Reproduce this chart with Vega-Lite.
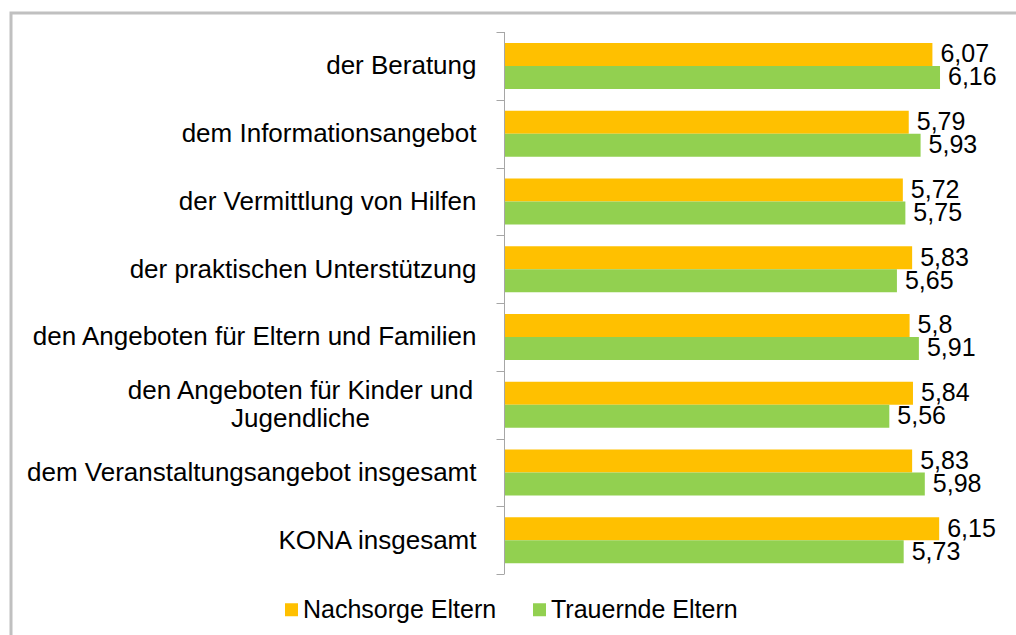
{
  "$schema": "https://vega.github.io/schema/vega-lite/v6.json",
  "width": 1020,
  "height": 650,
  "autosize": {"type": "none"},
  "padding": {"left": 11, "top": 13, "right": 0, "bottom": 0},
  "background": "white",
  "config": {
    "font": "Liberation Sans",
    "view": {"stroke": "#C0C0C0", "strokeWidth": 3},
    "locale": {"number": {"decimal": ",", "thousands": ".", "grouping": [3], "currency": ["", " €"]}}
  },
  "data": {
    "values": [
      {"kategorie": "der Beratung", "gruppe": "Nachsorge Eltern", "wert": 6.07},
      {"kategorie": "der Beratung", "gruppe": "Trauernde Eltern", "wert": 6.16},
      {"kategorie": "dem Informationsangebot", "gruppe": "Nachsorge Eltern", "wert": 5.79},
      {"kategorie": "dem Informationsangebot", "gruppe": "Trauernde Eltern", "wert": 5.93},
      {"kategorie": "der Vermittlung von Hilfen", "gruppe": "Nachsorge Eltern", "wert": 5.72},
      {"kategorie": "der Vermittlung von Hilfen", "gruppe": "Trauernde Eltern", "wert": 5.75},
      {"kategorie": "der praktischen Unterstützung", "gruppe": "Nachsorge Eltern", "wert": 5.83},
      {"kategorie": "der praktischen Unterstützung", "gruppe": "Trauernde Eltern", "wert": 5.65},
      {"kategorie": "den Angeboten für Eltern und Familien", "gruppe": "Nachsorge Eltern", "wert": 5.8},
      {"kategorie": "den Angeboten für Eltern und Familien", "gruppe": "Trauernde Eltern", "wert": 5.91},
      {"kategorie": "den Angeboten für Kinder und Jugendliche", "gruppe": "Nachsorge Eltern", "wert": 5.84},
      {"kategorie": "den Angeboten für Kinder und Jugendliche", "gruppe": "Trauernde Eltern", "wert": 5.56},
      {"kategorie": "dem Veranstaltungsangebot  insgesamt", "gruppe": "Nachsorge Eltern", "wert": 5.83},
      {"kategorie": "dem Veranstaltungsangebot  insgesamt", "gruppe": "Trauernde Eltern", "wert": 5.98},
      {"kategorie": "KONA insgesamt", "gruppe": "Nachsorge Eltern", "wert": 6.15},
      {"kategorie": "KONA insgesamt", "gruppe": "Trauernde Eltern", "wert": 5.73}
    ]
  },
  "encoding": {
    "y": {
      "field": "kategorie",
      "type": "nominal",
      "sort": null,
      "scale": {"paddingInner": 0, "paddingOuter": 0.797, "align": 0.176},
      "axis": {
        "title": null,
        "orient": "left",
        "offset": -493,
        "domain": false,
        "tickBand": "extent",
        "tickSize": 8,
        "tickColor": "#A6A6A6",
        "tickWidth": 1,
        "labelFontSize": 26,
        "labelColor": "#000000",
        "labelPadding": {"condition": {"test": "datum.value == 'den Angeboten für Kinder und Jugendliche'", "value": 196}, "value": 20},
        "labelAlign": {"condition": {"test": "datum.value == 'den Angeboten für Kinder und Jugendliche'", "value": "center"}, "value": "right"},
        "labelOffset": {"condition": {"test": "datum.value == 'den Angeboten für Kinder und Jugendliche'", "value": -14}, "value": 0},
        "labelLimit": 700,
        "labelLineHeight": 28,
        "labelExpr": "datum.label == 'den Angeboten für Kinder und Jugendliche' ? ['den Angeboten für Kinder und', 'Jugendliche'] : datum.label"
      }
    }
  },
  "layer": [
    {
      "mark": {"type": "bar"},
      "encoding": {
        "x": {
          "field": "wert",
          "type": "quantitative",
          "scale": {"domain": [-4.8343, 7.2367], "nice": false, "zero": false},
          "axis": null
        },
        "x2": {"datum": 1},
        "yOffset": {
          "field": "gruppe",
          "sort": ["Nachsorge Eltern", "Trauernde Eltern"],
          "scale": {"paddingOuter": 0.473, "paddingInner": 0}
        },
        "color": {
          "field": "gruppe",
          "type": "nominal",
          "sort": ["Nachsorge Eltern", "Trauernde Eltern"],
          "scale": {"range": ["#FFC000", "#92D050"]},
          "legend": {
            "title": null,
            "orient": "none",
            "legendX": 268,
            "legendY": 584,
            "direction": "horizontal",
            "symbolType": "square",
            "symbolSize": 169,
            "symbolStrokeWidth": 0,
            "labelFontSize": 25,
            "labelOffset": -1,
            "columnPadding": 30,
            "labelColor": "#000000",
            "padding": 0,
            "labelLimit": 400
          }
        }
      }
    },
    {
      "mark": {"type": "text", "align": "left", "baseline": "middle", "dx": 8, "fontSize": 25, "color": "#000000"},
      "encoding": {
        "x": {"field": "wert", "type": "quantitative"},
        "yOffset": {"field": "gruppe", "sort": ["Nachsorge Eltern", "Trauernde Eltern"]},
        "text": {"field": "wert", "type": "quantitative", "format": ".2~f"}
      }
    },
    {
      "mark": {"type": "bar", "color": "#A6A6A6"},
      "encoding": {
        "x": {"datum": 1, "type": "quantitative"},
        "x2": {"datum": 1.012}
      }
    }
  ]
}
